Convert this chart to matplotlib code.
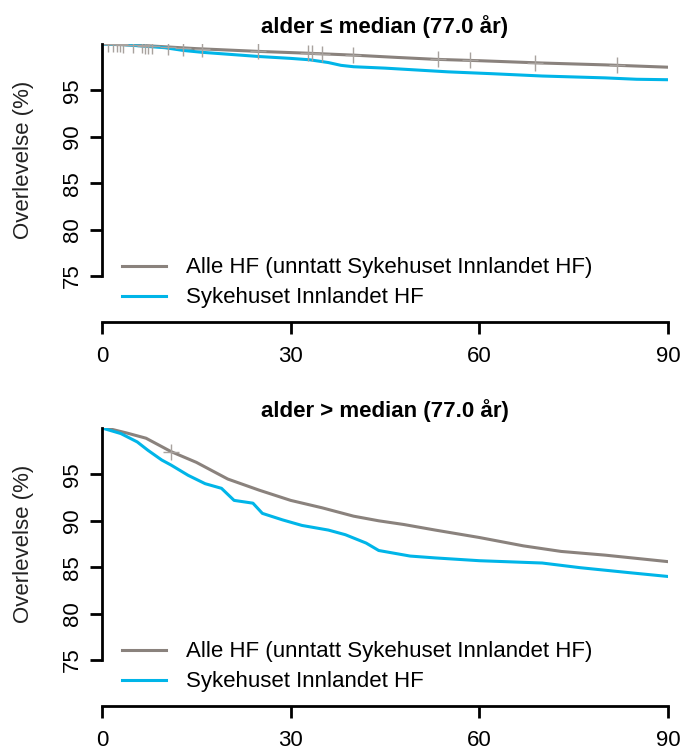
import numpy as np
import matplotlib
matplotlib.use("Agg")
import matplotlib.pyplot as plt

plt.rcParams["font.family"] = ["Liberation Sans", "DejaVu Sans"]

# Survival curves (days, percent)
young_all_t = [0, 3, 5, 10, 15, 20, 25, 33, 40, 47, 53, 60, 70, 80, 90]
young_all_s = [100, 99.95, 99.9, 99.7, 99.5, 99.35, 99.2, 99.0, 98.8, 98.55, 98.35, 98.2, 97.95, 97.75, 97.5]
young_hf_t = [0, 3, 6, 10, 13, 16, 20, 25, 30, 33, 36, 38, 40, 45, 50, 55, 62, 70, 80, 85, 90]
young_hf_s = [100, 99.95, 99.8, 99.6, 99.3, 99.1, 98.9, 98.65, 98.45, 98.3, 98.0, 97.7, 97.55, 97.4, 97.2, 97.0, 96.8, 96.55, 96.35, 96.2, 96.15]
young_cens = [0.95, 1.75, 2.4, 2.9, 3.3, 4.9, 6.4, 6.8, 7.3, 7.95, 10.5, 12.9, 15.9,
              24.8, 32.8, 33.4, 35.0, 39.9, 53.4, 58.5, 68.9, 81.9]

old_all_t = [0, 1, 4, 7, 11, 15, 20, 25, 30, 35, 40, 44, 48, 53, 60, 67, 73, 80, 90]
old_all_s = [100, 99.95, 99.45, 98.9, 97.45, 96.3, 94.5, 93.3, 92.2, 91.4, 90.5, 90.0, 89.6, 89.0, 88.2, 87.3, 86.7, 86.3, 85.6]
old_hf_t = [0, 3, 5.6, 7.3, 9.5, 11, 13.7, 16.4, 19, 21, 24, 25.5, 28.7, 31.8, 36, 38.7, 42, 44, 49, 53, 60, 70, 76, 84, 90]
old_hf_s = [100, 99.4, 98.5, 97.6, 96.55, 96.0, 94.9, 94.0, 93.5, 92.2, 91.9, 90.8, 90.1, 89.5, 89.0, 88.5, 87.6, 86.8, 86.2, 86.0, 85.7, 85.45, 84.95, 84.4, 84.0]
old_cens = [11]

titles = ["alder \u2264 median (77.0 år)", "alder > median (77.0 år)"]
labels = ["Alle HF (unntatt Sykehuset Innlandet HF)", "Sykehuset Innlandet HF"]
x_ticks = [0, 30, 60, 90]
y_ticks = [75, 80, 85, 90, 95]

col_all = "#8a827d"
col_hf = "#00b5e8"
FS = 16

fig = plt.figure(figsize=(6.83, 7.53), dpi=100)
ax_top = fig.add_axes([102 / 683, 1 - 276 / 753, 566 / 683, 232 / 753])
ax_bot = fig.add_axes([102 / 683, 1 - 660 / 753, 566 / 683, 232 / 753])

panels = [
    (ax_top, young_all_t, young_all_s, young_hf_t, young_hf_s, young_cens, titles[0]),
    (ax_bot, old_all_t, old_all_s, old_hf_t, old_hf_s, old_cens, titles[1]),
]

for ax, at, a_s, ht, hs, cens, title in panels:
    ax.plot(at, a_s, color=col_all, lw=2.2, label=labels[0])
    ax.plot(ht, hs, color=col_hf, lw=2.2, label=labels[1])
    # Censoring marks sit on the grey curve
    ax.plot(cens, np.interp(cens, at, a_s), ls="none", marker="+", ms=11, mew=1.0, color="#a8a29e")

    ax.set_xlim(0, 90)
    ax.set_ylim(75, 100)
    ax.set_xticks(x_ticks)
    ax.set_yticks(y_ticks)
    ax.tick_params(axis="y", labelrotation=90, pad=5)
    for lab in ax.get_yticklabels():
        lab.set_verticalalignment("center")
    ax.tick_params(direction="out", length=8.6, width=2, labelsize=FS)
    ax.tick_params(axis="x", pad=9)
    ax.spines["top"].set_visible(False)
    ax.spines["right"].set_visible(False)
    ax.spines["left"].set_linewidth(2)
    ax.spines["bottom"].set_linewidth(2)
    ax.spines["bottom"].set_position(("outward", 33))
    ax.spines["left"].set_bounds(75, 100)
    ax.set_ylabel("Overlevelse (%)", fontsize=FS, color="#222222", labelpad=20)
    ax.set_title(title, fontsize=FS, fontweight="bold", pad=8)
    ax.legend(loc="upper left", bbox_to_anchor=(0.035, 0.08), frameon=False,
              fontsize=FS, handlelength=2.0, handletextpad=0.9, borderpad=0,
              borderaxespad=0, labelspacing=0.4)

fig.savefig("out.png", dpi=100)
